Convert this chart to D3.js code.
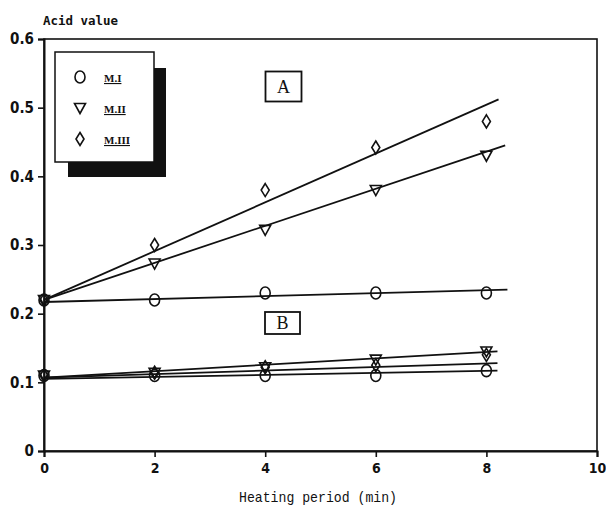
<!DOCTYPE html>
<html>
<head>
<meta charset="utf-8">
<script src="https://cdn.jsdelivr.net/npm/d3@7"></script>
<style>
  html, body { margin: 0; padding: 0; background: #fff; }
  svg { display: block; }
</style>
</head>
<body>
<svg id="chart" width="606" height="510"></svg>
<script>
// ---------- data ----------
const heatingTimes = [0, 2, 4, 6, 8];
const seriesNames = ["M.I", "M.II", "M.III"];
const groupA_MI   = [0.22, 0.22, 0.23, 0.23, 0.23];
const groupA_MII  = [0.22, 0.273, 0.322, 0.38, 0.43];
const groupA_MIII = [0.22, 0.30, 0.38, 0.442, 0.48];
const groupB_MI   = [0.11, 0.11, 0.11, 0.11, 0.117];
const groupB_MII  = [0.11, 0.114, 0.122, 0.133, 0.145];
const groupB_MIII = [0.11, 0.114, 0.122, 0.125, 0.14];
// fitted lines: [x0, y0, x1, y1]
const fitA_MI   = [0, 0.217, 8.38, 0.235];
const fitA_MII  = [0, 0.22, 8.34, 0.445];
const fitA_MIII = [0, 0.22, 8.22, 0.512];
const fitB_MI   = [0, 0.105, 8.2, 0.117];
const fitB_MII  = [0, 0.107, 8.2, 0.145];
const fitB_MIII = [0, 0.107, 8.2, 0.128];
const xTicks = [0, 2, 4, 6, 8, 10];
const yTicks = [0, 0.1, 0.2, 0.3, 0.4, 0.5, 0.6];
const yTickLabels = ["0", "0.1", "0.2", "0.3", "0.4", "0.5", "0.6"];

// ---------- layout ----------
const svg = d3.select("#chart");
const x = d3.scaleLinear().domain([0, 10]).range([44, 597]);
const y = d3.scaleLinear().domain([0, 0.6]).range([451, 39]);
const ink = "#111";

// frame
svg.append("rect").attr("x", x(0)).attr("y", y(0.6))
  .attr("width", x(10) - x(0)).attr("height", y(0) - y(0.6))
  .attr("fill", "none").attr("stroke", ink).attr("stroke-width", 1.6);

// axes
const xAxis = d3.axisBottom(x).tickValues(xTicks).tickSize(6).tickPadding(6).tickFormat(d3.format("d"));
const gx = svg.append("g").attr("transform", `translate(0,${y(0)})`).call(xAxis);
gx.select(".domain").attr("stroke", ink).attr("stroke-width", 2);
gx.selectAll(".tick line").attr("stroke", ink).attr("stroke-width", 1.6);
gx.selectAll("text").attr("fill", ink).attr("font-family", "DejaVu Sans Condensed, DejaVu Sans")
  .attr("font-weight", "bold").attr("font-size", 14);

const yAxis = d3.axisLeft(y).tickValues(yTicks).tickSize(6).tickPadding(4)
  .tickFormat((d, i) => yTickLabels[i]);
const gy = svg.append("g").attr("transform", `translate(${x(0)},0)`).call(yAxis);
gy.select(".domain").attr("stroke", ink).attr("stroke-width", 2);
gy.selectAll(".tick line").attr("stroke", ink).attr("stroke-width", 1.6);
gy.selectAll("text").attr("fill", ink).attr("font-family", "DejaVu Sans Condensed, DejaVu Sans")
  .attr("font-weight", "bold").attr("font-size", 15);

// titles
svg.append("text").attr("x", 43).attr("y", 25).text("Acid value")
  .attr("font-family", "DejaVu Sans Mono").attr("font-weight", "bold").attr("font-size", 12)
  .attr("fill", ink).attr("textLength", 75).attr("lengthAdjust", "spacingAndGlyphs");
svg.append("text").attr("x", 318).attr("y", 502).attr("text-anchor", "middle").text("Heating period (min)")
  .attr("font-family", "Liberation Mono").attr("font-size", 15).attr("fill", ink)
  .attr("textLength", 158).attr("lengthAdjust", "spacingAndGlyphs");

// fit lines
const fits = [fitA_MI, fitA_MII, fitA_MIII, fitB_MI, fitB_MII, fitB_MIII];
svg.append("g").selectAll("line").data(fits).join("line")
  .attr("x1", d => x(d[0])).attr("y1", d => y(d[1]))
  .attr("x2", d => x(d[2])).attr("y2", d => y(d[3]))
  .attr("stroke", ink).attr("stroke-width", 1.8);

// marker shapes
function drawMarker(g, type, cx, cy) {
  if (type === 0) {
    g.append("ellipse").attr("cx", cx).attr("cy", cy).attr("rx", 5).attr("ry", 6);
  } else if (type === 1) {
    g.append("path").attr("d", `M${cx - 5.5},${cy - 4.5}L${cx + 5.5},${cy - 4.5}L${cx},${cy + 5.5}Z`);
  } else {
    g.append("path").attr("d", `M${cx},${cy - 6.5}L${cx + 4},${cy}L${cx},${cy + 6.5}L${cx - 4},${cy}Z`);
  }
}
const pointSets = [
  [groupA_MI, 0], [groupA_MII, 1], [groupA_MIII, 2],
  [groupB_MI, 0], [groupB_MII, 1], [groupB_MIII, 2]
];
const gm = svg.append("g").attr("fill", "none").attr("stroke", ink).attr("stroke-width", 1.6);
pointSets.forEach(([vals, type]) => {
  vals.forEach((v, i) => drawMarker(gm, type, x(heatingTimes[i]), y(v)));
});

// group labels A and B
function boxLabel(txt, cx, cy, w, h) {
  svg.append("rect").attr("x", cx - w / 2).attr("y", cy - h / 2).attr("width", w).attr("height", h)
    .attr("fill", "#fff").attr("stroke", ink).attr("stroke-width", 1.8);
  svg.append("text").attr("x", cx).attr("y", cy + 6).attr("text-anchor", "middle").text(txt)
    .attr("font-family", "Liberation Serif").attr("font-size", 18).attr("fill", ink);
}
boxLabel("A", 283.5, 86.5, 36, 30);
boxLabel("B", 282.5, 323, 35, 22);

// legend
svg.append("rect").attr("x", 68).attr("y", 68).attr("width", 98).attr("height", 109).attr("fill", ink);
svg.append("rect").attr("x", 55).attr("y", 52).attr("width", 99).attr("height", 110)
  .attr("fill", "#fff").attr("stroke", ink).attr("stroke-width", 1.5);
const legY = [77, 108, 139];
const gl = svg.append("g").attr("fill", "none").attr("stroke", ink).attr("stroke-width", 1.6);
seriesNames.forEach((name, i) => {
  drawMarker(gl, i, 80, legY[i]);
  svg.append("text").attr("x", 104).attr("y", legY[i] + 5).text(name)
    .attr("font-family", "Liberation Serif").attr("font-weight", "bold").attr("font-size", 11)
    .attr("fill", ink).attr("text-decoration", "underline");
});
</script>
</body>
</html>
